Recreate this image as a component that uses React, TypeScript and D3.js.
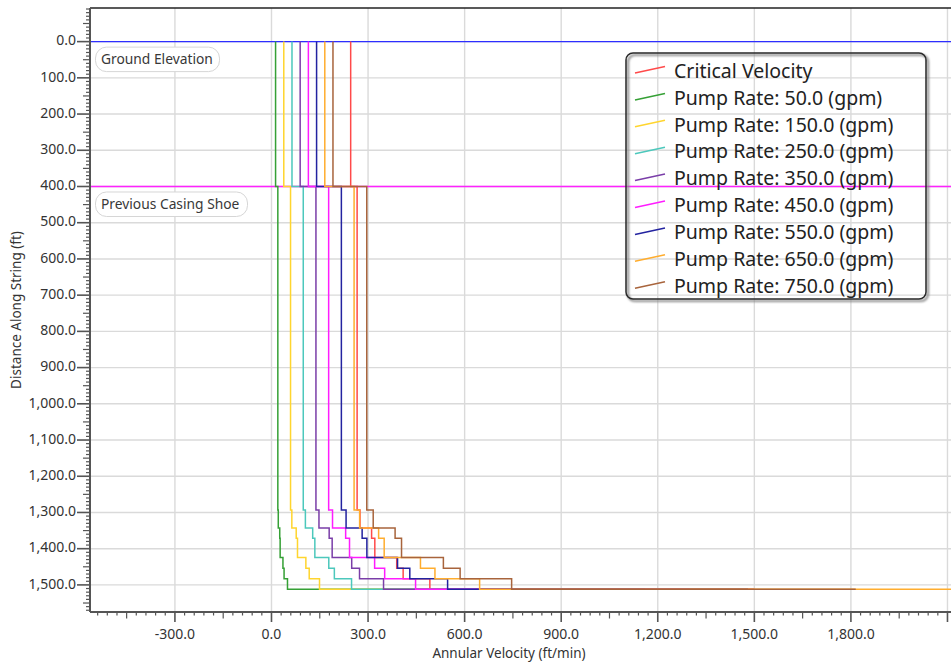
import React from 'react';
import * as d3 from 'd3';

const W = 951;
const H = 664;

// ---------- data ----------
const depthBreaks = [0, 400, 1293, 1343, 1371, 1424, 1454, 1483, 1512];

const seriesNames = [
  'Critical Velocity',
  'Pump Rate: 50.0 (gpm)',
  'Pump Rate: 150.0 (gpm)',
  'Pump Rate: 250.0 (gpm)',
  'Pump Rate: 350.0 (gpm)',
  'Pump Rate: 450.0 (gpm)',
  'Pump Rate: 550.0 (gpm)',
  'Pump Rate: 650.0 (gpm)',
  'Pump Rate: 750.0 (gpm)',
];
const seriesColors = [
  '#ff4a4a',
  '#35a035',
  '#ffd52e',
  '#4cc8bc',
  '#7a3ea8',
  '#ff1cff',
  '#2323a0',
  '#ffad2e',
  '#a8643c',
];

// velocity (ft/min) for each depth interval between depthBreaks
const criticalVelocity = [246, 266, 275, 311, 321, 389, 409, 492];
const pump50 = [12.7, 19.7, 21.1, 25.6, 26.9, 35.6, 39.1, 49.7];
const pump150 = [38.2, 59.2, 63.2, 76.8, 80.8, 106.8, 117.2, 149.2];
const pump250 = [63.7, 98.7, 105.3, 128.0, 134.7, 178.0, 195.3, 248.7];
const pump350 = [89.1, 138.1, 147.5, 179.2, 188.5, 249.2, 273.5, 348.1];
const pump450 = [114.6, 177.6, 189.6, 230.4, 242.4, 320.4, 351.6, 447.6];
const pump550 = [140.1, 217.1, 231.7, 281.6, 296.3, 391.6, 429.7, 547.1];
const pump650 = [165.6, 256.6, 273.8, 332.8, 350.1, 462.8, 507.8, 646.6];
const pump750 = [191.0, 296.0, 316.0, 384.0, 404.0, 534.0, 586.0, 746.0];
// velocity reached along the bottom (at total depth)
const bottomEnds = [1500, 820, 980, 1140, 1160, 1300, 1480, 2250, 1815];

const seriesValues = [
  criticalVelocity, pump50, pump150, pump250, pump350,
  pump450, pump550, pump650, pump750,
];

const yTickValues = [0, 100, 200, 300, 400, 500, 600, 700, 800, 900, 1000, 1100, 1200, 1300, 1400, 1500];
const xTickValues = [-300, 0, 300, 600, 900, 1200, 1500, 1800, 2100];

const refLines = [
  { depth: 0, label: 'Ground Elevation', color: '#2e2eff' },
  { depth: 400, label: 'Previous Casing Shoe', color: '#ff22ff' },
];

// ---------- layout ----------
const left = 90;
const right = 960;
const top = 8;
const bottom = 612;

const FONT = '"Segoe UI", "Noto Sans", "Open Sans", sans-serif';

export default function App() {
  const x = d3.scaleLinear().domain([-563.8, 2138.9]).range([left, right]);
  const y = d3.scaleLinear().domain([-92.8, 1574.8]).range([top, bottom]);
  const fmt0 = d3.format(',.1f');
  const fmt = (v: number) => fmt0(v).replace('\u2212', '-');

  const line = d3
    .line<[number, number]>()
    .x((d) => x(d[0]))
    .y((d) => y(d[1]));

  const buildPts = (vals: number[], end: number): [number, number][] => {
    const pts: [number, number][] = [];
    vals.forEach((v, i) => {
      pts.push([v, depthBreaks[i]]);
      pts.push([v, depthBreaks[i + 1]]);
    });
    pts.push([end, depthBreaks[depthBreaks.length - 1]]);
    return pts;
  };

  // minor ticks
  const [xd0, xd1] = x.domain();
  const xMinor = d3.range(Math.ceil(xd0 / 30) * 30, xd1, 30);
  const [yd0, yd1] = y.domain();
  const yMinor = d3.range(Math.ceil(yd0 / 10) * 10, yd1, 10);

  const legendX = 626;
  const legendY = 53;
  const legendW = 300;
  const legendH = 246;
  const rowY0 = 72.5;
  const rowStep = 26.9;

  const labelWidths: Record<string, number> = {
    'Ground Elevation': 124,
    'Previous Casing Shoe': 152,
  };

  return (
    <svg
      width={W}
      height={H}
      style={{ position: 'absolute', left: 0, top: 0, background: '#fff' }}
      fontFamily={FONT}
    >
      <defs>
        <clipPath id="plotClip">
          <rect x={left} y={top} width={right - left} height={bottom - top} />
        </clipPath>
        <filter id="shadow" x="-10%" y="-10%" width="130%" height="130%">
          <feGaussianBlur stdDeviation="1.2" />
        </filter>
      </defs>

      {/* grid */}
      <g stroke="#dadada" strokeWidth={1.4}>
        {xTickValues.map((t) => (
          <line key={'gx' + t} x1={x(t)} x2={x(t)} y1={top} y2={bottom} />
        ))}
        {yTickValues.map((t) => (
          <line key={'gy' + t} x1={left} x2={right} y1={y(t)} y2={y(t)} />
        ))}
      </g>

      {/* reference lines */}
      {refLines.map((r) => (
        <line
          key={'rl' + r.label}
          x1={left}
          x2={right}
          y1={y(r.depth)}
          y2={y(r.depth)}
          stroke={r.color}
          strokeWidth={1.3}
        />
      ))}

      {/* series */}
      <g clipPath="url(#plotClip)" fill="none" strokeWidth={1.5}>
        {seriesValues.map((vals, i) => (
          <path
            key={'s' + i}
            d={line(buildPts(vals, bottomEnds[i])) || ''}
            stroke={seriesColors[i]}
          />
        ))}
      </g>

      {/* reference labels */}
      {refLines.map((r) => {
        const by = y(r.depth) + 5.5;
        return (
          <g key={'lab' + r.label}>
            <rect
              x={95.5}
              y={by}
              width={labelWidths[r.label]}
              height={24.5}
              rx={11}
              fill="#fff"
              stroke="#d6d6d6"
              strokeWidth={1}
            />
            <text
              x={101}
              y={by + 13}
              fontSize={13.8}
              fill="#383838"
              dominantBaseline="middle"
            >
              {r.label}
            </text>
          </g>
        );
      })}

      {/* top border */}
      <line x1={left} x2={W} y1={top} y2={top} stroke="#222" strokeWidth={1.6} />

      {/* y axis */}
      <g>
        <line x1={left} x2={left} y1={top} y2={bottom} stroke="#555" strokeWidth={2} />
        {yMinor.map((t) => {
          const isMajor = Math.abs(t % 100) < 1e-6;
          const isMid = !isMajor && Math.abs(t % 50) < 1e-6;
          const len = isMajor ? 13 : isMid ? 7 : 4;
          return (
            <line
              key={'ym' + t}
              x1={left - len}
              x2={left}
              y1={y(t)}
              y2={y(t)}
              stroke="#555"
              strokeWidth={isMajor ? 1.6 : 1.2}
            />
          );
        })}
        {yTickValues.map((t) => (
          <text
            key={'yl' + t}
            x={76}
            y={y(t)}
            textAnchor="end"
            dominantBaseline="middle"
            fontSize={14}
            fill="#333"
          >
            {fmt(t)}
          </text>
        ))}
        <text
          transform={`translate(17,310) rotate(-90)`}
          textAnchor="middle"
          dominantBaseline="middle"
          fontSize={13.5}
          fill="#333"
        >
          Distance Along String (ft)
        </text>
      </g>

      {/* x axis */}
      <g>
        <line x1={left} x2={W} y1={bottom} y2={bottom} stroke="#555" strokeWidth={2} />
        {xMinor.map((t) => {
          const isMajor = Math.abs(t % 300) < 1e-6;
          const isMid = !isMajor && Math.abs(t % 150) < 1e-6;
          const len = isMajor ? 10 : isMid ? 6.5 : 3.5;
          return (
            <line
              key={'xm' + t}
              x1={x(t)}
              x2={x(t)}
              y1={bottom}
              y2={bottom + len}
              stroke="#555"
              strokeWidth={isMajor ? 1.6 : 1.2}
            />
          );
        })}
        {xTickValues
          .filter((t) => x(t) + 25 < W)
          .map((t) => (
            <text
              key={'xl' + t}
              x={x(t)}
              y={635}
              textAnchor="middle"
              dominantBaseline="middle"
              fontSize={14}
              fill="#333"
            >
              {fmt(t)}
            </text>
          ))}
        <text
          x={509}
          y={654}
          textAnchor="middle"
          dominantBaseline="middle"
          fontSize={13.5}
          fill="#333"
        >
          Annular Velocity (ft/min)
        </text>
      </g>

      {/* legend */}
      <g>
        <rect
          x={legendX + 2}
          y={legendY + 2}
          width={legendW}
          height={legendH}
          rx={7}
          fill="none"
          stroke="#8a8a8a"
          strokeWidth={2.2}
          filter="url(#shadow)"
        />
        <rect
          x={legendX}
          y={legendY}
          width={legendW}
          height={legendH}
          rx={7}
          fill="none"
          stroke="#2a2a2a"
          strokeWidth={1.5}
        />
        {seriesNames.map((name, i) => {
          const cy = rowY0 + i * rowStep;
          return (
            <g key={'lg' + i}>
              <line
                x1={635}
                x2={665}
                y1={cy + 0.5}
                y2={cy - 6}
                stroke={seriesColors[i]}
                strokeWidth={1.5}
              />
              <text
                x={674}
                y={cy}
                dominantBaseline="middle"
                fontSize={19.5}
                fill="#222"
              >
                {name}
              </text>
            </g>
          );
        })}
      </g>
    </svg>
  );
}
